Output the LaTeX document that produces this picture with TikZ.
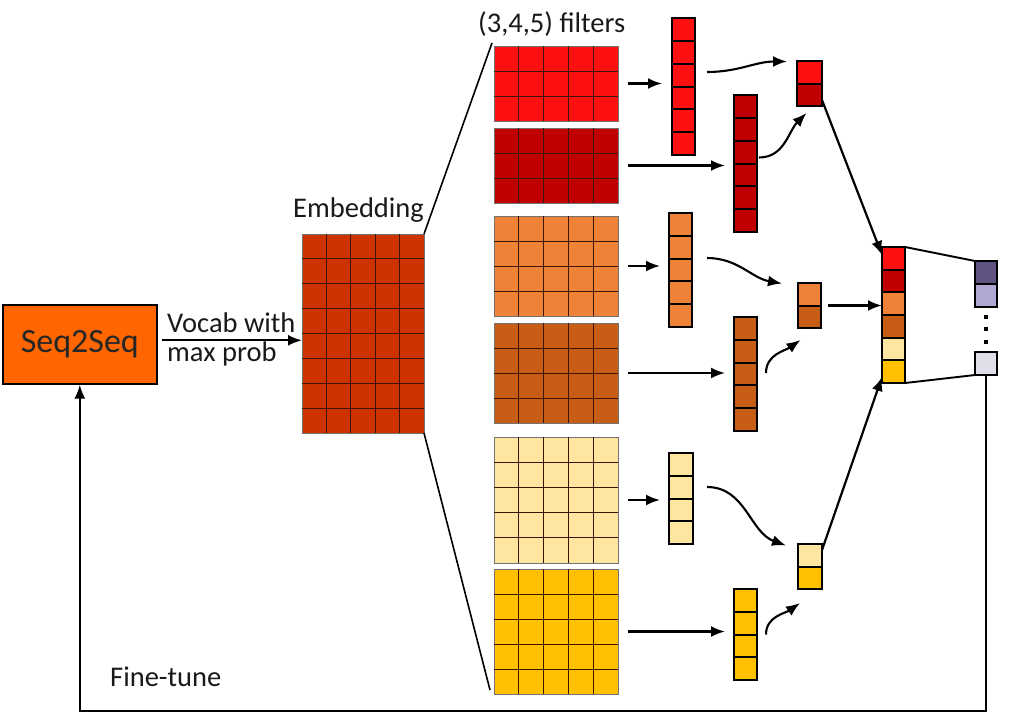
\documentclass[tikz,border=0pt]{standalone}
\usepackage{fontspec}
\setmainfont{Carlito}
\usetikzlibrary{arrows.meta,calc}
\definecolor{cRed}{RGB}{255,16,16}
\definecolor{cDRed}{RGB}{192,0,0}
\definecolor{cOr}{RGB}{238,130,55}
\definecolor{cDOr}{RGB}{200,94,22}
\definecolor{cLY}{RGB}{255,230,160}
\definecolor{cGold}{RGB}{255,192,0}
\definecolor{cEmb}{RGB}{204,51,0}
\definecolor{cSeq}{RGB}{255,102,0}
\definecolor{cDP}{RGB}{96,82,130}
\definecolor{cLP}{RGB}{176,168,210}
\definecolor{cGr}{RGB}{222,222,232}
\definecolor{cLine}{RGB}{60,20,10}
\tikzset{
  matbox/.style={draw=black!55, line width=0.8pt, inner sep=0pt, outer sep=0pt},
  matline/.style={draw=cLine, line width=0.9pt},
  vecbox/.style={draw=black, line width=2.4pt, inner sep=0pt, outer sep=0pt},
  vecline/.style={draw=black, line width=2pt},
  arr/.style={-{Latex[length=14pt,width=11pt]}, line width=2.2pt},
  carr/.style={-{Latex[length=14pt,width=11pt]}, line width=2.1pt},
  thinln/.style={line width=1.6pt},
  lbl/.style={font=\fontsize{28.5}{30}\selectfont, inner sep=0pt, text=black!90},
  dotsq/.style={fill=black, inner sep=0pt, minimum size=3.5pt},
}
% filter / embedding matrix: name x1 y1 x2 y2 cols rows colour
\newcommand{\cellmat}[8]{%
  \node[matbox, fill=#8, anchor=north west, minimum width={(#4-#2)*1pt}, minimum height={(#5-#3)*1pt}] (#1) at (#2,#3) {};
  \pgfmathtruncatemacro{\ncm}{#6-1}%
  \pgfmathtruncatemacro{\nrm}{#7-1}%
  \foreach \i in {1,...,\ncm} { \draw[matline] ({#2+\i*(#4-#2)/#6},#3) -- ({#2+\i*(#4-#2)/#6},#5); }
  \foreach \j in {1,...,\nrm} { \draw[matline] (#2,{#3+\j*(#5-#3)/#7}) -- (#4,{#3+\j*(#5-#3)/#7}); }
}
% column stack: name x1 y1 x2 y2 {colour list}
\newcommand{\stackcol}[6]{%
  \foreach \cc [count=\k] in {#6} { \xdef\nnk{\k} }
  \foreach \cc [count=\k from 0] in {#6} {
    \fill[fill=\cc] (#2,{#3+\k*(#5-#3)/\nnk}) rectangle (#4,{#3+(\k+1)*(#5-#3)/\nnk});
  }
  \pgfmathtruncatemacro{\nrm}{\nnk-1}%
  \ifnum\nrm>0
  \foreach \j in {1,...,\nrm} { \draw[vecline] (#2,{#3+\j*(#5-#3)/\nnk}) -- (#4,{#3+\j*(#5-#3)/\nnk}); }
  \fi
  \node[vecbox, anchor=north west, minimum width={(#4-#2)*1pt}, minimum height={(#5-#3)*1pt}] (#1) at (#2,#3) {};
}
\begin{document}
\begin{tikzpicture}[x=1pt,y=-1pt]
\useasboundingbox (0,0) rectangle (1034,713);

% Seq2Seq
\node[draw=black, line width=1.6pt, fill=cSeq, anchor=north west, inner sep=0pt,
      minimum width=154pt, minimum height=79pt,
      font=\fontsize{34}{36}\selectfont, text=black!85] (seq) at (2,304) {Seq2Seq};

% Embedding
\cellmat{emb}{302}{234}{424}{433}{5}{8}{cEmb}
\node[lbl, anchor=base west] (embt) at (293,217) {Embedding};

% filters
\cellmat{f1}{494}{46}{618}{121}{5}{3}{cRed}
\cellmat{f2}{494}{128}{618}{203}{5}{3}{cDRed}
\cellmat{f3}{494}{216}{618}{316}{5}{4}{cOr}
\cellmat{f4}{494}{323}{618}{423}{5}{4}{cDOr}
\cellmat{f5}{494}{437}{618}{563}{5}{5}{cLY}
\cellmat{f6}{494}{569}{618}{694}{5}{5}{cGold}
\node[lbl, anchor=base west] (filt) at (478,32) {(3,4,5) filters};

% feature maps
\stackcol{v1}{672}{18}{695}{155}{cRed,cRed,cRed,cRed,cRed,cRed}
\stackcol{v2}{734}{95}{757}{232}{cDRed,cDRed,cDRed,cDRed,cDRed,cDRed}
\stackcol{v3}{669}{213}{692}{327}{cOr,cOr,cOr,cOr,cOr}
\stackcol{v4}{734}{317}{757}{431}{cDOr,cDOr,cDOr,cDOr,cDOr}
\stackcol{v5}{669}{453}{693}{544}{cLY,cLY,cLY,cLY}
\stackcol{v6}{734}{589}{757}{680}{cGold,cGold,cGold,cGold}

% pooled
\stackcol{p1}{797}{61}{822}{106}{cRed,cDRed}
\stackcol{p2}{798}{283}{821}{328}{cOr,cDOr}
\stackcol{p3}{798}{544}{822}{589}{cLY,cGold}

% concatenation
\stackcol{cat}{882}{247}{905}{383}{cRed,cDRed,cOr,cDOr,cLY,cGold}

% output
\stackcol{o1}{975}{261}{997}{307}{cDP,cLP}
\stackcol{o3}{975}{352}{997}{375}{cGr}
\node[dotsq] (d1) at (986,317) {};
\node[dotsq] (d2) at (986,329) {};
\node[dotsq] (d3) at (986,342) {};

% Seq2Seq -> Embedding
\draw[arr] ([shift={(4,-4)}]seq.east) coordinate (a0) -- (a0 -| emb.west);
\node[lbl, anchor=west, align=left, font=\fontsize{28.5}{29}\selectfont] (voc) at (167,339) {Vocab with\\max prob};

% embedding fan lines
\draw[thinln] (emb.north east) -- ([shift={(-2,-3)}]f1.north west);
\draw[thinln] (emb.south east) -- ([shift={(-4,-4)}]f6.south west);

% filter -> feature map arrows
\draw[arr] ([xshift=10pt]f1.east) -- ([xshift=-10pt]v1.west |- f1.east);
\draw[arr] ([xshift=10pt]f2.east) -- ([xshift=-9pt]v2.west |- f2.east);
\draw[arr] ([xshift=10pt]f3.east) -- ([xshift=-9pt]v3.west |- f3.east);
\draw[arr] ([xshift=10pt]f4.east) -- ([xshift=-9pt]v4.west |- f4.east);
\draw[arr] ([xshift=10pt]f5.east) -- ([xshift=-9pt]v5.west |- f5.east);
\draw[arr] ([xshift=10pt]f6.east) -- ([xshift=-9pt]v6.west |- f6.east);

% pooling curves
\draw[carr] ([shift={(12,-14.5)}]v1.east) to[out=0,in=180] ([shift={(-10,-22)}]p1.west);
\draw[carr] ([shift={(2,-6)}]v2.east) to[out=0,in=225] ([shift={(-3,7)}]p1.south);
\draw[carr] ([shift={(15,-12)}]v3.east) to[out=0,in=170] ([shift={(-16,-22)}]p2.west);
\draw[carr] ([shift={(9,-1)}]v4.east) to[out=90,in=215] ([shift={(-9,12)}]p2.south);
\draw[carr] ([shift={(14,-11.5)}]v5.east) to[out=0,in=160] ([shift={(-12,-21)}]p3.west);
\draw[carr] ([shift={(9,0)}]v6.east) to[out=90,in=215] ([shift={(-10,14)}]p3.south);

% pooled -> concat
\draw[arr] ([shift={(0,-6)}]p1.south east) -- ([shift={(0,8)}]cat.north west);
\draw[arr] ([xshift=7pt]p2.east) -- (cat.west |- p2.east);
\draw[arr] ([shift={(0,6)}]p3.north east) -- ([shift={(0,-6)}]cat.south west);

% concat -> output
\draw[line width=1.9pt] (cat.north east) -- (o1.north west);
\draw[line width=1.9pt] (cat.south east) -- (o3.south west);

% fine-tune loop
\coordinate (fb) at (0,711);
\draw[arr] (o3.south) |- (seq.south |- fb) -- (seq.south);
\node[lbl, anchor=base west] (ft) at (110,686) {Fine-tune};
\end{tikzpicture}
\end{document}
